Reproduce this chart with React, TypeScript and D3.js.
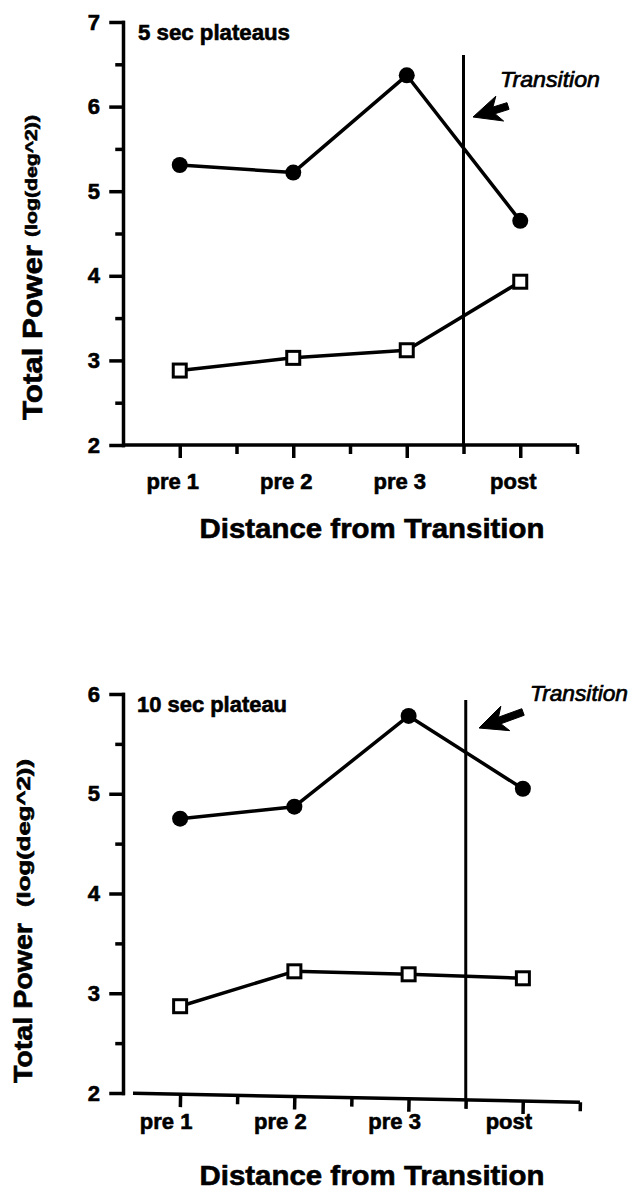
import React, { useRef, useEffect } from "react";
import * as d3 from "d3";

// categories along the x axis
const categories = ["pre 1", "pre 2", "pre 3", "post"];
const transitionAt = 2.5; // halfway between pre 3 and post

// panel 1 : 5 sec plateaus
const topTicks = [2, 3, 4, 5, 6, 7];
const topCircles = [5.31, 5.22, 6.37, 4.65];
const topSquares = [2.88, 3.03, 3.12, 3.93];

// panel 2 : 10 sec plateau
const bottomTicks = [2, 3, 4, 5, 6];
const bottomCircles = [4.75, 4.87, 5.78, 5.05];
const bottomSquares = [2.87, 3.22, 3.19, 3.15];

const FONT = "'Liberation Sans', Arial, Helvetica, sans-serif";

const panels = [
  {
    title: "5 sec plateaus", ticks: topTicks, circles: topCircles, squares: topSquares,
    left: 123, right: 577, top: 22, bottom: 445, xStart: 123, tilt: 0,
    titleX: 138, titleY: 40, titleLen: 152,
    transTop: 55, transX: 500, transY: 87, transLen: 100,
    arrowTip: [473, 117], arrowTail: [508, 106],
    labelDx: -7, labelDy: 44, xTitleY: 538,
    yTitle: { x: 42, y: 420, len: 175, size: 27 },
    yUnit: { x: 37, y: 237, len: 122, size: 17 },
  },
  {
    title: "10 sec plateau", ticks: bottomTicks, circles: bottomCircles, squares: bottomSquares,
    left: 123, right: 580, top: 694, bottom: 1093, xStart: 133, tilt: 1.15,
    titleX: 137, titleY: 712, titleLen: 150,
    transTop: 700, transX: 530, transY: 701, transLen: 98,
    arrowTip: [479, 728], arrowTail: [523, 712],
    labelDx: -14, labelDy: 36, xTitleY: 1185,
    yTitle: { x: 32, y: 1083, len: 160, size: 26 },
    yUnit: { x: 30, y: 907, len: 148, size: 18 },
  },
];

function arrowPath(tip, tail) {
  const dx = tail[0] - tip[0], dy = tail[1] - tip[1];
  const L = Math.hypot(dx, dy);
  const u = [dx / L, dy / L], n = [-u[1], u[0]];
  const pts = [[0, 0], [28, -13], [22, -3.5], [L, -3.5], [L, 3.5], [22, 3.5], [28, 13]];
  return "M" + pts.map(([a, b]) => `${tip[0] + a * u[0] + b * n[0]},${tip[1] + a * u[1] + b * n[1]}`).join("L") + "Z";
}

// heavy "scanned" bold text
const ink = (t) => t.attr("font-family", FONT).attr("font-weight", "bold").attr("fill", "#000")
  .attr("stroke", "#000").attr("stroke-width", 0.6);

function drawPanel(svg, p) {
  const g = svg.append("g");
  const x = d3.scaleLinear().domain([-0.5, 3.5]).range([p.left, p.right]);
  const y = d3.scaleLinear().domain(d3.extent(p.ticks)).range([p.bottom, p.top]);

  // y axis
  const yg = g.append("g").attr("transform", `translate(${p.left},0)`)
    .call(d3.axisLeft(y).tickValues(p.ticks).tickSize(12).tickSizeOuter(0).tickPadding(11).tickFormat(d3.format("d")))
    .attr("font-size", 22);
  const minorY = p.ticks.slice(0, -1).map((t) => t + 0.5);
  const yg2 = g.append("g").attr("transform", `translate(${p.left},0)`)
    .call(d3.axisLeft(y).tickValues(minorY).tickSize(6).tickFormat(() => ""));
  yg2.select(".domain").remove();
  g.selectAll("line, path").attr("stroke", "#000").attr("stroke-width", 3.5).attr("stroke-linecap", "square");
  ink(yg.selectAll("text"));

  // x axis (slightly tilted in the lower panel)
  const xg = g.append("g").attr("transform", `translate(0,${p.bottom}) rotate(${p.tilt},${p.left},0)`);
  xg.append("g").call(d3.axisBottom(x).tickValues([0, 1, 2, 3]).tickSize(13).tickSizeOuter(0).tickFormat(() => ""))
    .select(".domain").attr("d", `M${p.xStart},0H${p.right}`);
  xg.append("g").call(d3.axisBottom(x).tickValues([0.5, 1.5, 2.5, 3.5]).tickSize(9).tickFormat(() => ""))
    .select(".domain").remove();
  xg.selectAll("line, path").attr("stroke", "#000").attr("stroke-width", 3.5);

  ink(g.append("g").selectAll("text").data(categories).join("text"))
    .attr("x", (d, i) => x(i) + p.labelDx).attr("y", p.bottom + p.labelDy)
    .attr("text-anchor", "middle").attr("font-size", 22).text((d) => d);

  // transition line + annotation
  const tx = x(transitionAt);
  const tyBottom = p.bottom + (tx - p.left) * Math.tan((p.tilt * Math.PI) / 180);
  g.append("line").attr("x1", tx).attr("x2", tx).attr("y1", p.transTop).attr("y2", tyBottom)
    .attr("stroke", "#000").attr("stroke-width", 3);
  g.append("text").attr("x", p.transX).attr("y", p.transY)
    .attr("font-family", FONT).attr("font-style", "italic").attr("font-size", 22)
    .attr("stroke", "#000").attr("stroke-width", 0.7)
    .attr("textLength", p.transLen).attr("lengthAdjust", "spacingAndGlyphs").text("Transition");
  g.append("path").attr("d", arrowPath(p.arrowTip, p.arrowTail)).attr("fill", "#000")
    .attr("stroke", "#000").attr("stroke-width", 1).attr("stroke-linejoin", "round");

  // title
  ink(g.append("text")).attr("x", p.titleX).attr("y", p.titleY).attr("font-size", 22)
    .attr("textLength", p.titleLen).attr("lengthAdjust", "spacingAndGlyphs").text(p.title);

  // axis titles
  ink(g.append("text")).attr("x", 372).attr("y", p.xTitleY).attr("text-anchor", "middle")
    .attr("font-size", 28).attr("textLength", 345).attr("lengthAdjust", "spacingAndGlyphs")
    .text("Distance from Transition");
  ink(g.append("text")).attr("transform", `translate(${p.yTitle.x},${p.yTitle.y}) rotate(-90)`)
    .attr("font-size", p.yTitle.size)
    .attr("textLength", p.yTitle.len).attr("lengthAdjust", "spacingAndGlyphs").text("Total Power");
  ink(g.append("text")).attr("transform", `translate(${p.yUnit.x},${p.yUnit.y}) rotate(-90)`)
    .attr("font-size", p.yUnit.size)
    .attr("textLength", p.yUnit.len).attr("lengthAdjust", "spacingAndGlyphs").text("(log(deg^2))");

  // series
  const line = d3.line().x((d, i) => x(i)).y((d) => y(d));
  [p.circles, p.squares].forEach((s) => {
    g.append("path").datum(s).attr("d", line).attr("fill", "none")
      .attr("stroke", "#000").attr("stroke-width", 3.5).attr("stroke-linejoin", "round");
  });
  g.append("g").selectAll("circle").data(p.circles).join("circle")
    .attr("cx", (d, i) => x(i)).attr("cy", (d) => y(d)).attr("r", 8).attr("fill", "#000");
  g.append("g").selectAll("rect").data(p.squares).join("rect")
    .attr("x", (d, i) => x(i) - 6.5).attr("y", (d) => y(d) - 6.5).attr("width", 13).attr("height", 13)
    .attr("fill", "#fff").attr("stroke", "#000").attr("stroke-width", 3);
}

const App = () => {
  const ref = useRef(null);
  useEffect(() => {
    const svg = d3.select(ref.current);
    svg.selectAll("*").remove();
    panels.forEach((p) => drawPanel(svg, p));
  }, []);

  return (
    <svg ref={ref} width={631} height={1192}
      style={{ position: "absolute", left: 0, top: 0, background: "#fff" }}></svg>
  );
};
export default App;
